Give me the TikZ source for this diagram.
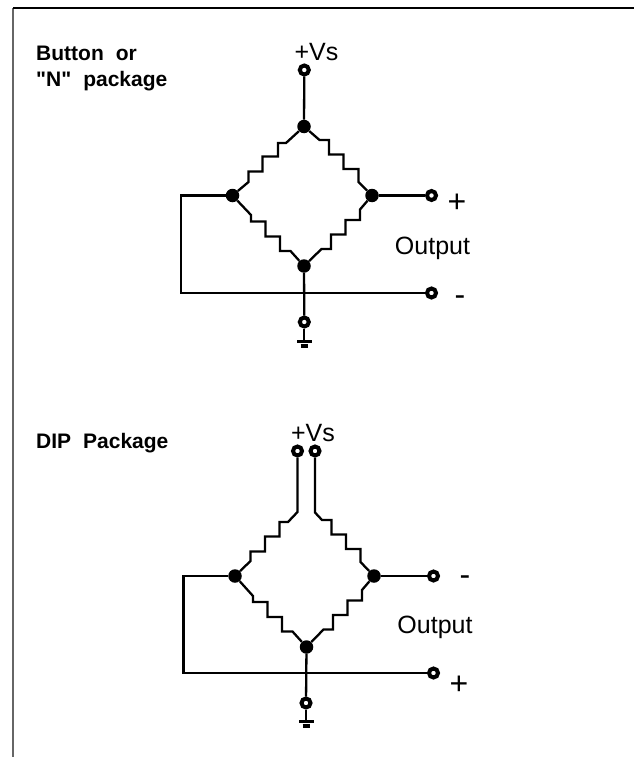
\documentclass[tikz,border=0pt]{standalone}
\usepackage{fontspec}
\setmainfont{Liberation Sans}
\usetikzlibrary{positioning}
\newcommand{\headfont}{\fontsize{21}{26}\selectfont\bfseries\spaceskip 12pt\relax}
\tikzset{junc/.style = {fill, circle, inner sep = 0, minimum size = 13.5}}
\tikzset{term/.style = {draw, circle, fill = white, line width = 4, inner sep = 0, minimum size = 9}}
\tikzset{wire/.style = {line width = 2.3, line join = miter}}
\tikzset{lab/.style = {inner sep = 0, font = \fontsize{25}{25}\selectfont}}
\tikzset{head/.style = {inner sep = 0, align = left, anchor = north west, font = \headfont}}
\tikzset{sign/.style = {inner sep = 0, font = \fontsize{32}{32}\selectfont}}

\begin{document}
\begin{tikzpicture}[x=1pt, y=-1pt]
      \useasboundingbox (0, 0) rectangle (634, 757);
      \draw [line width = 1.2, black!60] (13, 757) -- (13, 8);
      \draw [line width = 1.4] (13, 8) -- (634, 8);

      \node [head] (title1) at (36, 45.5) {Button or\\\textquotedbl N\textquotedbl{} package};
      \node [head] (title2) at (36, 433) {DIP Package};

      % upper bridge
      \node [junc] (top1) at (304, 126.5) {};
      \node [junc] (left1) at (232.5, 195.5) {};
      \node [junc] (right1) at (372, 195.5) {};
      \node [junc] (bot1) at (304, 266) {};
      \node [term] (vs1) at (304.3, 70) {};
      \node [term] (outa1) at (431.5, 195.5) {};
      \node [term] (outb1) at (431.5, 293) {};
      \node [term] (gnd1) at (304.3, 322) {};
      \coordinate (corner1a) at (181, 195.5);
      \coordinate (corner1b) at (181, 293);
      \coordinate (earth1) at (304.3, 341);

      \draw [wire] (vs1) -- (top1);
      \draw [wire] (right1) -- (outa1);
      \draw [wire] (left1) -- (corner1a) -- (corner1b) -- (outb1);
      \draw [wire] (bot1) -- (gnd1);
      \draw [wire] (gnd1) -- (earth1);
      \draw [line width = 3] (297, 341.5) -- (311.5, 341.5);
      \draw [line width = 4] (300.5, 345.5) -- (308, 345.5);

      \draw [wire] (top1) -- (286, 143) -- (278, 143) -- (278, 156.5) -- (262.5, 156.5) -- (262.5, 171.5) -- (248.5, 171.5) -- (248.5, 182) -- (left1);
      \draw [wire] (top1) -- (319.5, 140) -- (329, 140) -- (329, 154.5) -- (343.5, 154.5) -- (343.5, 169) -- (358.5, 169) -- (358.5, 182) -- (right1);
      \draw [wire] (left1) -- (251, 215) -- (251, 221.5) -- (265.5, 221.5) -- (265.5, 236.5) -- (280, 236.5) -- (280, 251) -- (290.5, 251) -- (bot1);
      \draw [wire] (right1) -- (360, 209.5) -- (360, 220) -- (345.5, 220) -- (345.5, 234.5) -- (331, 234.5) -- (331, 249) -- (321.5, 249) -- (bot1);

      \node [lab] (vslab1) at (316.5, 52) {+Vs};
      \node [lab] (outlab1) at (432.5, 248) {Output};
      \node [sign] (plus1) at (457, 203.5) {+};
      \node [sign] (minus1) at (460, 301) {-};

      % lower bridge
      \node [junc] (left2) at (235, 576) {};
      \node [junc] (right2) at (374, 576) {};
      \node [junc] (bot2) at (306.5, 647) {};
      \node [term] (vsa2) at (297.5, 451) {};
      \node [term] (vsb2) at (315, 451) {};
      \node [term] (outa2) at (433.5, 576) {};
      \node [term] (outb2) at (433.5, 673) {};
      \node [term] (gnd2) at (306, 703) {};
      \coordinate (corner2a) at (183.5, 576);
      \coordinate (corner2b) at (183.5, 673);
      \coordinate (earth2) at (306, 721);

      \draw [wire] (right2) -- (outa2);
      \draw [wire] (left2) -- (corner2a) -- (corner2b) -- (outb2);
      \draw [wire] (bot2) -- (gnd2);
      \draw [wire] (gnd2) -- (earth2);
      \draw [line width = 3] (299, 721.5) -- (313.5, 721.5);
      \draw [line width = 4] (302.5, 725.5) -- (310, 725.5);

      \draw [wire] (vsa2) -- (297.5, 512) -- (288, 522) -- (279.5, 522) -- (279.5, 536.5) -- (265, 536.5) -- (265, 551.5) -- (250.5, 551.5) -- (250.5, 561) -- (left2);
      \draw [wire] (vsb2) -- (315, 512.5) -- (322, 520) -- (331.5, 520) -- (331.5, 534.5) -- (346, 534.5) -- (346, 549) -- (360.5, 549) -- (360.5, 562) -- (right2);
      \draw [wire] (left2) -- (253, 596) -- (253, 602) -- (267.5, 602) -- (267.5, 617) -- (282, 617) -- (282, 631.5) -- (292.5, 631.5) -- (bot2);
      \draw [wire] (right2) -- (362, 590) -- (362, 600.5) -- (347.5, 600.5) -- (347.5, 615) -- (333, 615) -- (333, 629.5) -- (323.5, 629.5) -- (bot2);

      \node [lab] (vslab2) at (313, 433) {+Vs};
      \node [lab] (outlab2) at (435, 627) {Output};
      \node [sign] (minus2) at (465, 581) {-};
      \node [sign] (plus2) at (459, 685) {+};
    \end{tikzpicture}
\end{document}
